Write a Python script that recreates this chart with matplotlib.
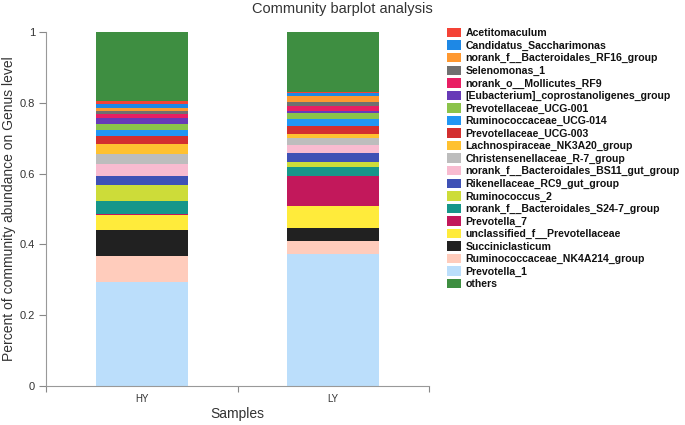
import matplotlib
matplotlib.use("Agg")
import matplotlib.pyplot as plt
from matplotlib.patches import Patch
import numpy as np

plt.rcParams['font.family'] = ['Liberation Sans', 'DejaVu Sans']

samples = ['HY', 'LY']

# stacking order: bottom -> top
genera = ['Prevotella_1', 'Ruminococcaceae_NK4A214_group', 'Succiniclasticum',
          'unclassified_f__Prevotellaceae', 'Prevotella_7',
          'norank_f__Bacteroidales_S24-7_group', 'Ruminococcus_2',
          'Rikenellaceae_RC9_gut_group', 'norank_f__Bacteroidales_BS11_gut_group',
          'Christensenellaceae_R-7_group', 'Lachnospiraceae_NK3A20_group',
          'Prevotellaceae_UCG-003', 'Ruminococcaceae_UCG-014', 'Prevotellaceae_UCG-001',
          '[Eubacterium]_coprostanoligenes_group', 'norank_o__Mollicutes_RF9',
          'Selenomonas_1', 'norank_f__Bacteroidales_RF16_group',
          'Candidatus_Saccharimonas', 'Acetitomaculum', 'others']

hy = [0.295, 0.072, 0.073, 0.042, 0.004, 0.036, 0.047, 0.024, 0.033, 0.028, 0.031,
      0.020, 0.018, 0.016, 0.018, 0.012, 0.008, 0.008, 0.011, 0.009, 0.195]
ly = [0.373, 0.038, 0.035, 0.062, 0.086, 0.024, 0.016, 0.025, 0.022, 0.019, 0.012,
      0.022, 0.020, 0.016, 0.007, 0.013, 0.013, 0.015, 0.009, 0.004, 0.169]

colors = ['#BBDEFB', '#FFCCBC', '#212121', '#FFEB3B', '#C2185B', '#16968A', '#CDDC39',
          '#3F51B5', '#F8BBD0', '#BDBDBD', '#FFC130', '#D32F2F', '#2196F3', '#8BC34A',
          '#673AB7', '#E91E63', '#707070', '#FF9830', '#1E88E5', '#F44336', '#3E8E41']

fig = plt.figure(figsize=(6.85, 4.25), dpi=100)
ax = fig.add_axes([46/685, 1-386/425, 383/685, 354/425])

xpos = np.array([0.5, 1.5])
vals = np.array([hy, ly])
bottom = np.zeros(2)
for i, g in enumerate(genera):
    ax.bar(xpos, vals[:, i], width=0.48, bottom=bottom, color=colors[i], linewidth=0)
    bottom += vals[:, i]

ax.set_xlim(0, 2)
ax.set_ylim(0, 1)
ax.set_xticks([0, 1, 2])
ax.set_xticklabels([])
ax.set_xticks(xpos, minor=True)
ax.set_xticklabels(samples, minor=True)
ax.tick_params(axis='x', which='minor', length=0, labelsize=7, colors='#333333', pad=6)
ax.tick_params(axis='x', which='major', length=4, color='#888888')
ax.set_yticks([0, 0.2, 0.4, 0.6, 0.8, 1])
ax.set_yticklabels(['0', '0.2', '0.4', '0.6', '0.8', '1'])
ax.tick_params(axis='y', length=5, color='#888888', labelsize=8, labelcolor='#333333', pad=3)
for s in ['top', 'right']:
    ax.spines[s].set_visible(False)
for s in ['left', 'bottom']:
    ax.spines[s].set_color('#999999')

ax.set_xlabel('Samples', fontsize=10, color='#333333')
ax.xaxis.set_label_coords(0.5, -0.06)
ax.set_ylabel('Percent of community abundance on Genus level', fontsize=10, color='#333333')
ax.yaxis.set_label_coords(-0.078, 0.5)
fig.suptitle('Community barplot analysis', fontsize=10.5, color='#333333', y=0.995)

# legend: genera top -> bottom, then others
order = list(range(len(genera) - 2, -1, -1)) + [len(genera) - 1]
handles = [Patch(facecolor=colors[i], edgecolor='none') for i in order]
labels = [genera[i] for i in order]
fig.legend(handles, labels, loc='upper left', bbox_to_anchor=(447/685, 1-28/425),
           frameon=False, prop={'size': 7.6, 'weight': 'bold'},
           handlelength=1.35, handleheight=1.0,
           labelspacing=0.2, handletextpad=0.4, borderpad=0, borderaxespad=0,
           labelcolor='#111111')

fig.savefig('out.png', dpi=100)
